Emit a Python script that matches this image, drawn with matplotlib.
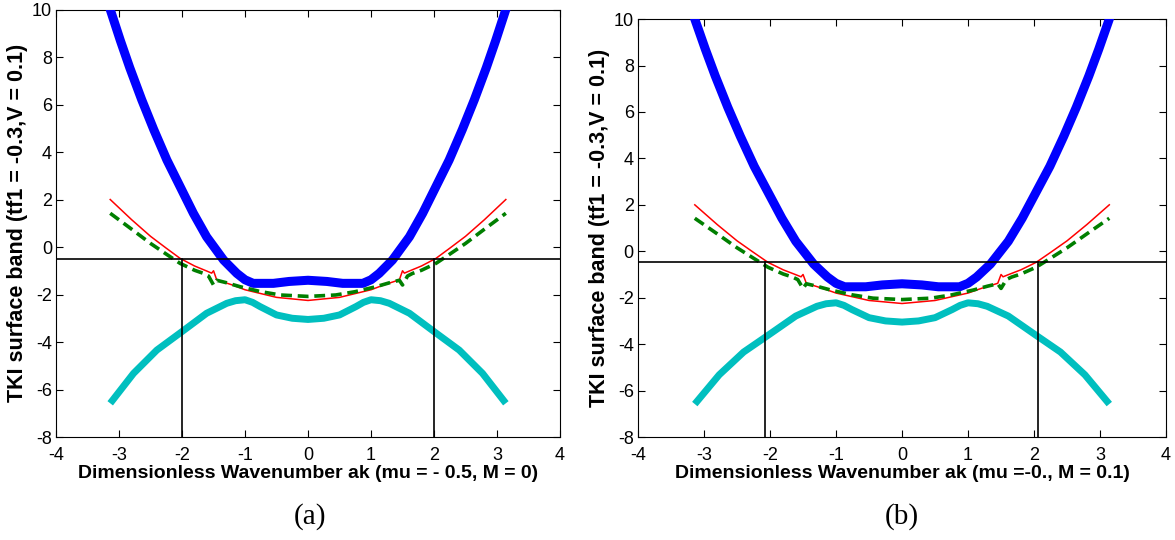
import matplotlib
matplotlib.use("Agg")
import matplotlib.pyplot as plt

plt.rcParams["axes.unicode_minus"] = False

# ---------------- data ----------------
blue_x = [-3.14, -2.98, -2.83, -2.64, -2.45, -2.24, -2.03, -1.82, -1.61, -1.45, -1.34, -1.13, -1.00,
          -0.87, -0.55, -0.30, 0.0, 0.30, 0.55, 0.87, 1.00, 1.13, 1.34, 1.45, 1.61, 1.82, 2.03,
          2.24, 2.45, 2.64, 2.83, 2.98, 3.14]
blue_y = [10.0, 8.7, 7.55, 6.2, 4.95, 3.66, 2.54, 1.42, 0.43, -0.15, -0.55, -1.11, -1.38,
          -1.53, -1.53, -1.45, -1.4, -1.45, -1.53, -1.53, -1.38, -1.11, -0.55, -0.15, 0.43, 1.42, 2.54,
          3.66, 4.95, 6.2, 7.55, 8.7, 10.0]

cyan_x = [-3.14, -2.77, -2.40, -2.00, -1.61, -1.29, -1.15, -1.00, -0.88, -0.76, -0.50, -0.25, 0.0,
          0.25, 0.50, 0.76, 0.88, 1.00, 1.15, 1.29, 1.61, 2.00, 2.40, 2.77, 3.14]
cyan_y = [-6.58, -5.32, -4.34, -3.56, -2.79, -2.37, -2.26, -2.22, -2.33, -2.51, -2.86, -3.0, -3.05,
          -3.0, -2.86, -2.51, -2.33, -2.22, -2.26, -2.37, -2.79, -3.56, -4.34, -5.32, -6.58]

red_x = [-3.14, -2.80, -2.50, -2.25, -2.03, -1.80, -1.60, -1.53, -1.50, -1.45, -1.20, -1.00, -0.50, 0.0,
         0.50, 1.00, 1.20, 1.45, 1.50, 1.53, 1.60, 1.80, 2.03, 2.25, 2.50, 2.80, 3.14]
red_y = [2.0, 1.15, 0.45, -0.05, -0.48, -0.8, -1.02, -1.1, -1.0, -1.38, -1.6, -1.8, -2.12, -2.25,
         -2.12, -1.8, -1.6, -1.38, -1.0, -1.1, -1.02, -0.8, -0.48, -0.05, 0.45, 1.15, 2.0]

green_x = [-3.14, -2.80, -2.50, -2.25, -2.03, -1.80, -1.66, -1.58, -1.50, -1.45, -1.30, -1.08, -0.75,
           -0.44, 0.0, 0.44, 0.75, 1.08, 1.30, 1.45, 1.50, 1.58, 1.66, 1.80, 2.03, 2.25, 2.50, 2.80, 3.14]
green_y = [1.42, 0.75, 0.15, -0.3, -0.69, -0.98, -1.11, -1.22, -1.6, -1.4, -1.5, -1.67, -1.88,
           -2.02, -2.08, -2.02, -1.88, -1.67, -1.5, -1.4, -1.6, -1.22, -1.11, -0.98, -0.69, -0.3, 0.15, 0.75, 1.42]

fermi_a = -0.5
fermi_b = -0.47
kf_a = [-2.0, 2.0]
kf_b = [-2.07, 2.06]

x_ticks = [-4, -3, -2, -1, 0, 1, 2, 3, 4]
y_ticks = [-8, -6, -4, -2, 0, 2, 4, 6, 8, 10]

ylabel = "TKI surface band (tf1 = -0.3,V = 0.1)"
xlabel_a = "Dimensionless Wavenumber ak (mu = - 0.5, M = 0)"
xlabel_b = "Dimensionless Wavenumber ak (mu =-0., M = 0.1)"
captions = ["(a)", "(b)"]

fig = plt.figure(figsize=(11.75, 5.4), dpi=100)
ax_a = fig.add_axes([0.0477, 0.1907, 0.4289, 0.7917])
ax_b = fig.add_axes([0.5430, 0.1907, 0.4494, 0.7740])


def draw(ax, fermi, kf, xlabel):
    ax.plot(cyan_x, cyan_y, color="#00BFBF", lw=5, solid_capstyle="butt",
            solid_joinstyle="round", zorder=2)
    ax.plot(blue_x, blue_y, color="#0000FF", lw=6.5, solid_joinstyle="round", zorder=3)
    ax.plot(red_x, red_y, color="#FF0000", lw=1.1, zorder=4)
    ax.plot(green_x, green_y, color="#007F00", lw=2.6, ls=(0, (3, 1.6)), zorder=4)
    ax.axhline(fermi, color="black", lw=1.2, zorder=5)
    for k in kf:
        ax.plot([k, k], [-8, fermi], color="black", lw=1.2, zorder=5)
    ax.set_xlim(-4, 4)
    ax.set_ylim(-8, 10)
    ax.set_xticks(x_ticks)
    ax.set_yticks(y_ticks)
    ax.tick_params(direction="in", top=True, right=True, length=5, width=0.8,
                   labelsize=13)
    ax.tick_params(axis="x", pad=7)
    ax.tick_params(axis="y", pad=3)
    for lab in ax.get_xticklabels() + ax.get_yticklabels():
        lab.set_fontfamily("Liberation Sans")
    for s in ax.spines.values():
        s.set_linewidth(0.8)
    ax.set_xlabel(xlabel, fontfamily="Liberation Sans", fontweight="bold", fontsize=14, labelpad=1)
    ax.set_ylabel(ylabel, fontfamily="Liberation Sans", fontweight="bold", fontsize=15.5, labelpad=3)


draw(ax_a, fermi_a, kf_a, xlabel_a)
draw(ax_b, fermi_b, kf_b, xlabel_b)

fig.text(310 / 1175, 1 - 517 / 540, captions[0], ha="center", va="center",
         fontfamily="Liberation Serif", fontsize=21)
fig.text(902 / 1175, 1 - 517 / 540, captions[1], ha="center", va="center",
         fontfamily="Liberation Serif", fontsize=21)

fig.savefig("out.png", dpi=100)
